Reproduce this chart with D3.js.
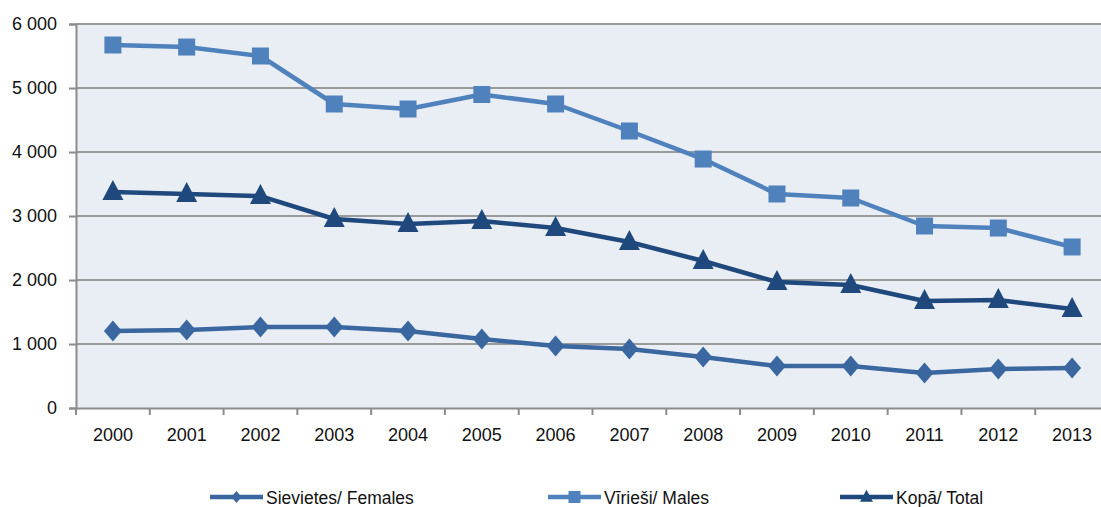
<!DOCTYPE html>
<html><head><meta charset="utf-8">
<script src="https://cdn.jsdelivr.net/npm/d3@7"></script>
<style>body{margin:0;background:#fff}svg{display:block}</style>
</head><body>
<svg id="c" width="1101" height="507"></svg>
<script>
const years = ["2000","2001","2002","2003","2004","2005","2006","2007","2008","2009","2010","2011","2012","2013"];
const females = [1203,1219,1266,1266,1203,1078,969,922,797,656,656,547,609,625];
const males = [5672,5640,5500,4750,4672,4898,4750,4328,3890,3344,3281,2844,2812,2516];
const total = [3375,3344,3312,2953,2875,2922,2812,2594,2297,1969,1922,1672,1687,1547];
const yTicks = [0,1000,2000,3000,4000,5000,6000];
const seriesNames = ["Sievietes/ Females","Vīrieši/ Males","Kopā/ Total"];

const svg = d3.select("#c");
const L = 76, R = 1109, T = 24, B = 408;
const x = d3.scaleBand().domain(years).range([L, R]);
const y = d3.scaleLinear().domain([0, 6000]).range([B, T]);
const fmt = v => d3.format(",")(v).replace(/,/g, " ");
const FONT = "Liberation Sans, Arial, sans-serif";

svg.append("rect").attr("x", L).attr("y", T).attr("width", R - L).attr("height", B - T).attr("fill", "#e9edf4");

svg.append("g").selectAll("line").data(yTicks.filter(d => d > 0)).join("line")
  .attr("x1", L).attr("x2", R).attr("y1", d => y(d)).attr("y2", d => y(d))
  .attr("stroke", "#9a9a9a").attr("stroke-width", 2);

const ya = svg.append("g").attr("transform", `translate(${L},0)`)
  .call(d3.axisLeft(y).tickValues(yTicks).tickFormat(fmt).tickSize(7).tickPadding(12));
ya.select(".domain").attr("stroke", "#8c8c8c").attr("stroke-width", 2);
ya.selectAll(".tick line").attr("stroke", "#8c8c8c").attr("stroke-width", 2);
ya.selectAll("text").attr("font-family", FONT).attr("font-size", 18).attr("fill", "#111");

const xa = svg.append("g").attr("transform", `translate(0,${B})`)
  .call(d3.axisBottom(x).tickSize(0).tickPadding(20));
xa.select(".domain").attr("stroke", "#8c8c8c").attr("stroke-width", 2);
xa.selectAll("text").attr("font-family", FONT).attr("font-size", 18).attr("fill", "#111");
const bounds = years.map(d => x(d)).concat([R]);
svg.append("g").selectAll("line").data(bounds).join("line")
  .attr("x1", d => d).attr("x2", d => d).attr("y1", B).attr("y2", B + 7)
  .attr("stroke", "#8c8c8c").attr("stroke-width", 2);

const cx = d => x(d) + x.bandwidth() / 2;
// marker shapes (w,h in px)
const shape = {
  diamond: (w, h) => `M0,${-h/2}L${w/2},0L0,${h/2}L${-w/2},0Z`,
  square: (w, h) => `M${-w/2},${-h/2}h${w}v${h}h${-w}Z`,
  triangle: (w, h) => `M0,${-h*0.6}L${w/2},${h*0.4}L${-w/2},${h*0.4}Z`
};
const series = [
  {name: seriesNames[0], values: females, color: "#3a679f", sym: "diamond", w: 18, h: 21, lw: 10, lh: 12},
  {name: seriesNames[1], values: males, color: "#4f81bd", sym: "square", w: 17, h: 17, lw: 12, lh: 12},
  {name: seriesNames[2], values: total, color: "#1f497d", sym: "triangle", w: 21, h: 20, lw: 13, lh: 12}
];
const line = d3.line().x((d, i) => cx(years[i])).y(d => y(d));

series.forEach(s => {
  const g = svg.append("g");
  g.append("path").datum(s.values).attr("d", line).attr("fill", "none")
    .attr("stroke", s.color).attr("stroke-width", 4.5).attr("stroke-linejoin", "round");
  g.selectAll("path.m").data(s.values).join("path").attr("class", "m")
    .attr("transform", (d, i) => `translate(${cx(years[i])},${y(d)})`)
    .attr("d", shape[s.sym](s.w, s.h)).attr("fill", s.color);
});

const legX = [210, 548, 840];
series.forEach((s, i) => {
  const g = svg.append("g").attr("transform", `translate(${legX[i]},497)`);
  g.append("line").attr("x1", 0).attr("x2", 53).attr("stroke", s.color).attr("stroke-width", 4.5);
  g.append("path").attr("transform", `translate(26.5,0)`)
    .attr("d", shape[s.sym](s.lw, s.lh)).attr("fill", s.color);
  g.append("text").attr("x", 56).attr("y", 6.5).text(s.name)
    .attr("font-family", FONT).attr("font-size", 17.5).attr("fill", "#111")
    .attr("textLength", null);
});
</script>
</body></html>
